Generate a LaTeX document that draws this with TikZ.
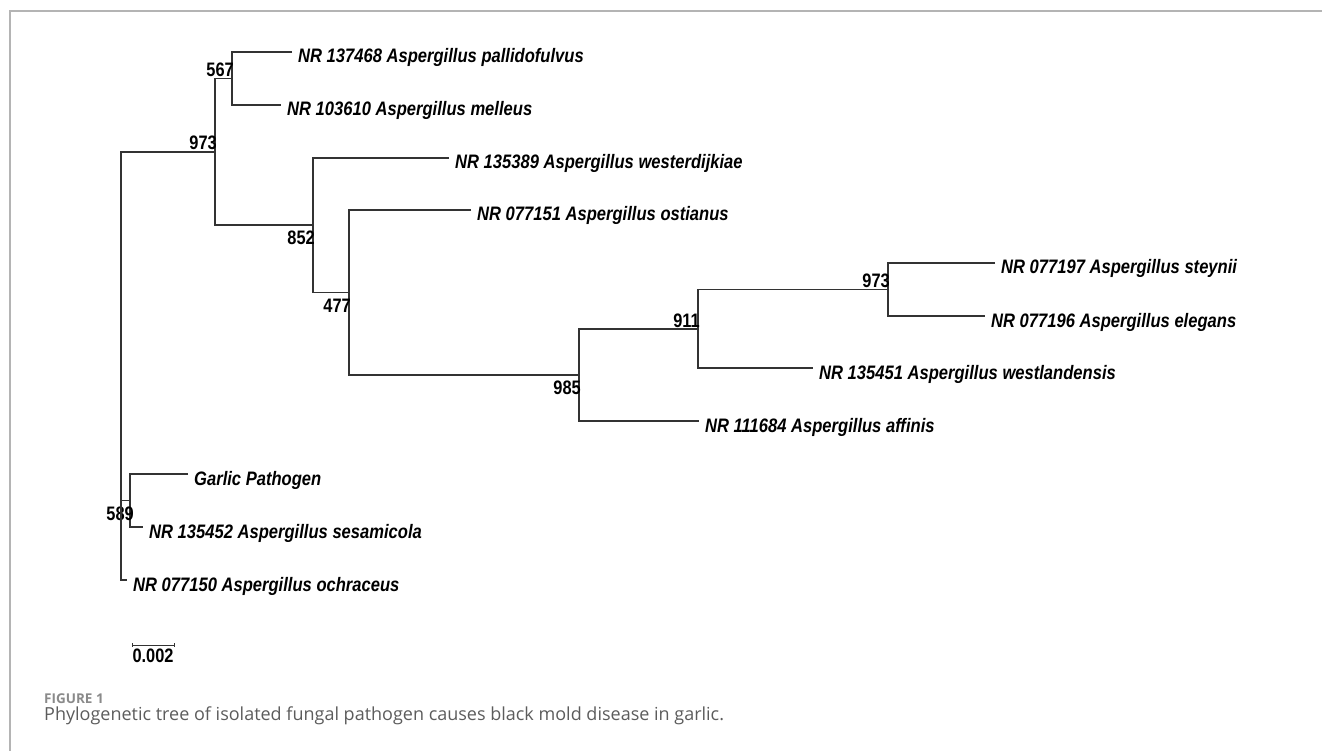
\documentclass[tikz,border=0pt]{standalone}
\usepackage{fontspec}
\setmainfont{Liberation Sans}
\newfontfamily\leaffont{Liberation Sans}[FakeStretch=0.85]
\newfontfamily\numfont{Liberation Sans}[FakeStretch=0.84]
\newfontfamily\capfont{Open Sans}
\usepackage{xcolor}
\usepackage{tikz}
\usetikzlibrary{positioning}
\definecolor{framegray}{HTML}{B4B4B4}
\definecolor{capgray}{HTML}{5C5C5C}
\definecolor{figgray}{HTML}{8A8A8A}

\begin{document}
\begin{tikzpicture}[x=1pt, y=-1pt,
    branch/.style={draw=black!80, line width=1.2pt},
    leaf/.style={anchor=west, inner xsep=6pt, inner ysep=0pt, text height=22pt, text depth=0pt,
        font=\leaffont\fontsize{19.5}{19.5}\selectfont\bfseries\itshape},
    boot/.style={inner sep=0pt, font=\numfont\fontsize{19.5}{19.5}\selectfont\bfseries},
    bsup/.style={boot, anchor=base east, xshift=2pt, yshift=2pt},
    bsdown/.style={boot, anchor=north east, xshift=2pt, yshift=-6pt}]
    \useasboundingbox (0,0) rectangle (1322,751);
    % Frame
    \draw[framegray, line width=1.6pt] (10,751) -- (10,11) -- (1322,11);
    % Clade 567
    \coordinate (c567) at (232,78.5);
    \node[leaf] (pal) at (292,52)  {NR 137468 Aspergillus pallidofulvus};
    \node[leaf] (mel) at (281,105) {NR 103610 Aspergillus melleus};
    \draw[branch] (pal.west) -| (c567) |- (mel.west);
    \node[bsup] at (c567) {567};
    % Clade 973 (upper)
    \coordinate (c973a) at (215,152);
    \coordinate (c852) at (313,225);
    \draw[branch] (c567) -| (c973a) |- (c852);
    \node[bsup] at (c973a) {973};
    % Clade 852
    \coordinate (c477) at (349,292.5);
    \node[leaf] (wes) at (449,158) {NR 135389 Aspergillus westerdijkiae};
    \draw[branch] (wes.west) -| (c852) |- (c477);
    \node[bsdown] at (c852) {852};
    % Clade 477
    \coordinate (c985) at (579,375);
    \node[leaf] (ost) at (471,210) {NR 077151 Aspergillus ostianus};
    \draw[branch] (ost.west) -| (c477) |- (c985);
    \node[bsdown] at (c477) {477};
    % Clade 973 (steynii, elegans)
    \coordinate (c973b) at (888,289.5);
    \node[leaf] (ste) at (995,263) {NR 077197 Aspergillus steynii};
    \node[leaf] (ele) at (985,316) {NR 077196 Aspergillus elegans};
    \draw[branch] (ste.west) -| (c973b) |- (ele.west);
    \node[bsup] at (c973b) {973};
    % Clade 911
    \coordinate (c911) at (698,329);
    \node[leaf] (wtl) at (813,368) {NR 135451 Aspergillus westlandensis};
    \draw[branch] (c973b) -| (c911) |- (wtl.west);
    \node[bsup] at (c911) {911};
    % Clade 985
    \node[leaf] (aff) at (699,421) {NR 111684 Aspergillus affinis};
    \draw[branch] (c911) -| (c985) |- (aff.west);
    \node[bsdown] at (c985) {985};
    % Clade 589
    \coordinate (c589) at (130,500.5);
    \node[leaf] (gar) at (188,474) {Garlic Pathogen};
    \node[leaf] (ses) at (143,527) {NR 135452 Aspergillus sesamicola};
    \draw[branch] (gar.west) -| (c589) |- (ses.west);
    \node[bsdown, xshift=2pt] at (c589) {589};
    % Root
    \coordinate (croot) at (121,152);
    \node[leaf] (och) at (127,580) {NR 077150 Aspergillus ochraceus};
    \draw[branch] (c973a) -| (croot) |- (och.west);
    \draw[branch] (c589) -- (c589 -| croot);
    % Scale bar
    \coordinate (bar0) at (132,645);
    \coordinate (bar1) at (174,645);
    \coordinate (barm) at (153,645);
    \draw[branch, line width=0.9pt] (bar0) -- (bar1);
    \draw[branch, line width=0.7pt] (bar0) ++(0,-2) -- ++(0,4);
    \draw[branch, line width=0.7pt] (bar1) ++(0,-2) -- ++(0,4);
    \node[boot, below=4pt of barm] (barlab) {0.002};
    % Caption
    \node[anchor=base west, inner sep=0pt, text=figgray, font=\capfont\fontsize{13.5}{13.5}\selectfont\bfseries] (fig) at (44,703) {FIGURE 1};
    \node[anchor=base west, inner sep=0pt, text=capgray, font=\capfont\fontsize{18}{18}\selectfont] (cap) at (44,720)
        {Phylogenetic tree of isolated fungal pathogen causes black mold disease in garlic.};
\end{tikzpicture}
\end{document}
